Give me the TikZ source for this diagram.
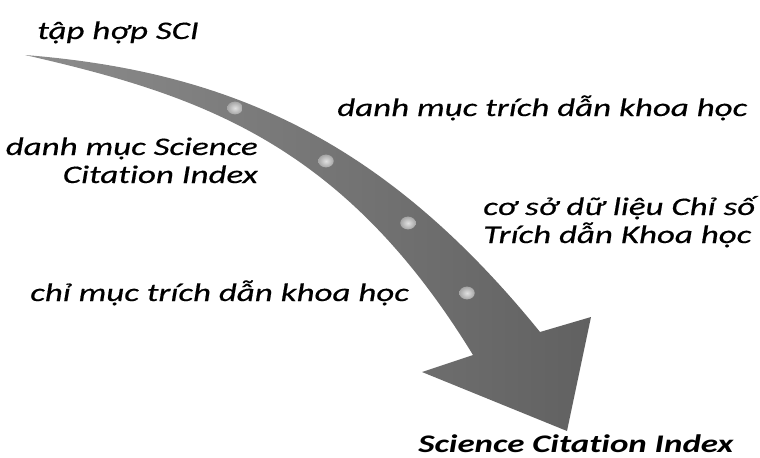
\documentclass[tikz,border=0pt]{standalone}
\usepackage{fontspec}
\setmainfont{Carlito}[FakeStretch=1.38, Ligatures=NoCommon]
\newfontfamily\labitfont{Carlito}[FakeStretch=1.38, FakeBold=0.5, Ligatures=NoCommon]
\begin{document}
\begin{tikzpicture}[x=0.75pt,y=-0.75pt,
  lab/.style={font=\labitfont\fontsize{19}{21}\selectfont\itshape, inner sep=0pt, text=black},
  labbold/.style={lab, font=\fontsize{19}{21}\selectfont\bfseries\itshape},
  arrowfill/.style={left color=black!45, right color=black!62},
  dotstyle/.style={inner color=black!12, outer color=black!35}]
\path[use as bounding box] (0,0) rectangle (760,457);
% curved arrow
\shade[arrowfill] (25,55) .. controls (225,71) and (382,137) .. (540,332)
  -- (591,317) -- (567,431) -- (422,372) -- (473,355)
  .. controls (343,142.5) and (200,95) .. (25,55) -- cycle;
% dots on the arrow
\shade[dotstyle] (235,108) ellipse [x radius=5.8pt, y radius=4.8pt];
\shade[dotstyle] (326,161) ellipse [x radius=5.8pt, y radius=4.8pt];
\shade[dotstyle] (408,223) ellipse [x radius=5.8pt, y radius=4.8pt];
\shade[dotstyle] (467,293) ellipse [x radius=5.8pt, y radius=4.8pt];
% labels
\node[lab, anchor=base west] (sci) at (37,39) {tập hợp SCI};
\node[lab, anchor=base west] (dm) at (337,116) {danh mục trích dẫn khoa học};
\node[lab, anchor=base east, align=right] (dms) at (258,183) {danh mục Science\\Citation Index};
\node[lab, anchor=base west, align=left] (csdl) at (483,243) {cơ sở dữ liệu Chỉ số\\Trích dẫn Khoa học};
\node[lab, anchor=base west] (cm) at (30,301) {chỉ mục trích dẫn khoa học};
\node[labbold, anchor=base west] (sciidx) at (418,452) {Science Citation Index};
\end{tikzpicture}
\end{document}
